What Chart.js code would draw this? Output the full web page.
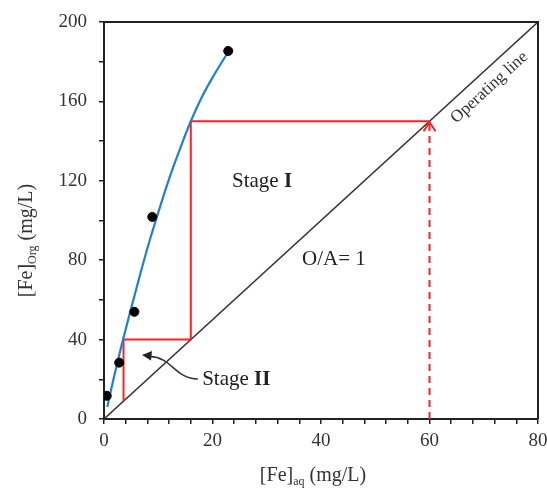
<!DOCTYPE html>
<html>
<head>
<meta charset="utf-8">
<script src="https://cdn.jsdelivr.net/npm/chart.js@4.4.0/dist/chart.umd.min.js"></script>
<style>
	html, body { margin: 0; padding: 0; background: #fff; }
</style>
</head>
<body>
<canvas id="mccabeChart" width="547" height="488"></canvas>
<script>
// Experimental points (black dots)
var dataX = [0.5, 2.8, 5.6, 8.9, 22.9];
var dataY = [11.7, 28.4, 54, 101.8, 185.4];

// Isotherm curve (blue)
var fitX = [0.6, 2, 3.6, 6, 8, 10, 12, 14, 16, 18, 20, 22.9];
var fitY = [6, 23, 41, 66, 86, 104, 121, 136, 150, 162, 172, 185];

// Operating line, O/A = 1
var opX = [0, 80];
var opY = [0, 200];

// Stage construction (red steps)
var stairX = [60, 16, 16, 3.6, 3.6];
var stairY = [150, 150, 40, 40, 9];

// Feed arrow (red dashed)
var feedX = [60, 60];
var feedY = [0, 149];

var xTickLabels = [0, 20, 40, 60, 80];
var yTickLabels = [0, 40, 80, 120, 160, 200];

var SERIF = '"Liberation Serif", "Times New Roman", serif';

function pts(xs, ys) {
	return xs.map(function(v, i) { return { x: v, y: ys[i] }; });
}

function richText(ctx, parts, x, y, align) {
	var w = 0;
	parts.forEach(function(p) { ctx.font = p[1]; w += ctx.measureText(p[0]).width; });
	var cx = align === 'center' ? x - w / 2 : x;
	parts.forEach(function(p) {
		ctx.font = p[1];
		ctx.fillText(p[0], cx, y + p[2]);
		cx += ctx.measureText(p[0]).width;
	});
}

// Frame, labels and arrows
var annotate = {
	id: 'annotate',
	afterDatasetsDraw: function(chart) {
		var ctx = chart.ctx, a = chart.chartArea;
		var xs = chart.scales.x, ys = chart.scales.y;
		function px(xv, yv) { return [xs.getPixelForValue(xv), ys.getPixelForValue(yv)]; }

		ctx.save();
		// top and right frame
		ctx.strokeStyle = '#222';
		ctx.lineWidth = 2;
		ctx.beginPath();
		ctx.moveTo(a.left, a.top);
		ctx.lineTo(a.right, a.top);
		ctx.lineTo(a.right, a.bottom);
		ctx.stroke();

		// arrow head on feed line
		var tip = px(60, 150);
		ctx.strokeStyle = '#ff2020';
		ctx.lineWidth = 2;
		ctx.beginPath();
		ctx.moveTo(tip[0] - 6, tip[1] + 10);
		ctx.lineTo(tip[0], tip[1] + 1);
		ctx.lineTo(tip[0] + 6, tip[1] + 10);
		ctx.stroke();

		ctx.fillStyle = '#222';
		ctx.textBaseline = 'alphabetic';
		ctx.textAlign = 'left';

		var p = px(23.6, 116.9);
		richText(ctx, [['Stage ', '21px ' + SERIF, 0], ['I', 'bold 21px ' + SERIF, 0]], p[0], p[1], 'left');

		p = px(36.5, 77.6);
		richText(ctx, [['O/A= 1', '21px ' + SERIF, 0]], p[0], p[1], 'left');

		p = px(18.1, 17.1);
		richText(ctx, [['Stage ', '21px ' + SERIF, 0], ['II', 'bold 21px ' + SERIF, 0]], p[0], p[1], 'left');

		// curved pointer for Stage II
		var s = px(17.3, 20.2);
		var t = px(7.0, 32.2);
		ctx.strokeStyle = '#333';
		ctx.lineWidth = 1.5;
		ctx.beginPath();
		ctx.moveTo(s[0], s[1]);
		ctx.bezierCurveTo(s[0] - 23, s[1], s[0] - 26, s[1] - 22, t[0] + 8, t[1] + 1.5);
		ctx.stroke();
		ctx.beginPath();
		ctx.moveTo(t[0], t[1]);
		ctx.lineTo(t[0] + 10, t[1] - 4);
		ctx.lineTo(t[0] + 9, t[1] + 5.5);
		ctx.closePath();
		ctx.fill();

		// operating line label
		var o0 = px(0, 0), o1 = px(80, 200);
		var ang = Math.atan2(o1[1] - o0[1], o1[0] - o0[0]);
		var an = px(69.1, 172.8);
		var off = 15.6;
		ctx.save();
		ctx.translate(an[0] - Math.sin(ang) * off, an[1] + Math.cos(ang) * off);
		ctx.rotate(ang);
		ctx.textAlign = 'center';
		ctx.textBaseline = 'middle';
		ctx.font = '17px ' + SERIF;
		ctx.fillStyle = '#333';
		ctx.fillText('Operating line', 0, 0);
		ctx.restore();

		// axis titles with subscripts
		ctx.fillStyle = '#333';
		ctx.textBaseline = 'alphabetic';
		richText(ctx, [['[Fe]', '20px ' + SERIF, 0], ['aq', '12px ' + SERIF, 4], [' (mg/L)', '20px ' + SERIF, 0]],
			(a.left + a.right) / 2 - 8, chart.height - 7, 'center');

		ctx.save();
		ctx.translate(32, (a.top + a.bottom) / 2 + 20);
		ctx.rotate(-Math.PI / 2);
		richText(ctx, [['[Fe]', '20px ' + SERIF, 0], ['Org', '12px ' + SERIF, 4], [' (mg/L)', '20px ' + SERIF, 0]],
			0, 0, 'center');
		ctx.restore();

		ctx.restore();
	}
};

var mccabeChart = new Chart(document.getElementById('mccabeChart'), {
	type: 'scatter',
	data: {
		datasets: [
			{
				label: 'Experimental',
				data: pts(dataX, dataY),
				backgroundColor: '#000',
				borderColor: '#000',
				pointRadius: 4.5,
				showLine: false
			},
			{
				label: 'Isotherm',
				data: pts(fitX, fitY),
				borderColor: '#1f7fd4',
				borderWidth: 2.2,
				pointRadius: 0,
				showLine: true,
				tension: 0.4
			},
			{
				label: 'Stages',
				data: pts(stairX, stairY),
				borderColor: '#ff2020',
				borderWidth: 2,
				pointRadius: 0,
				showLine: true
			},
			{
				label: 'Feed',
				data: pts(feedX, feedY),
				borderColor: '#ff2020',
				borderWidth: 2,
				borderDash: [7, 5],
				pointRadius: 0,
				showLine: true
			},
			{
				label: 'Operating line',
				data: pts(opX, opY),
				borderColor: '#333',
				borderWidth: 1.5,
				pointRadius: 0,
				showLine: true
			}
		]
	},
	options: {
		responsive: false,
		animation: false,
		layout: { padding: { top: 22, right: 9, left: 0, bottom: 0 } },
		plugins: {
			legend: { display: false },
			tooltip: { enabled: false }
		},
		scales: {
			x: {
				type: 'linear',
				min: 0,
				max: 80,
				afterFit: function(scale) {
					scale.height = 69;
					scale.paddingLeft = 0;
					scale.paddingRight = 0;
				},
				border: { color: '#222', width: 2 },
				grid: { drawOnChartArea: false, color: '#222', lineWidth: 1.5, tickLength: 5 },
				ticks: {
					stepSize: 4,
					autoSkip: false,
					maxRotation: 0,
					padding: 6,
					color: '#333',
					font: { family: SERIF, size: 19 },
					callback: function(v) { return xTickLabels.indexOf(v) >= 0 ? v : ''; }
				}
			},
			y: {
				type: 'linear',
				min: 0,
				max: 200,
				afterFit: function(scale) {
					scale.width = 104;
					scale.paddingTop = 0;
					scale.paddingBottom = 0;
				},
				border: { color: '#222', width: 2 },
				grid: { drawOnChartArea: false, color: '#222', lineWidth: 1.5, tickLength: 5 },
				ticks: {
					stepSize: 20,
					autoSkip: false,
					padding: 12,
					color: '#333',
					font: { family: SERIF, size: 19 },
					callback: function(v) { return yTickLabels.indexOf(v) >= 0 ? v : ''; }
				}
			}
		}
	},
	plugins: [annotate]
});
</script>
</body>
</html>
